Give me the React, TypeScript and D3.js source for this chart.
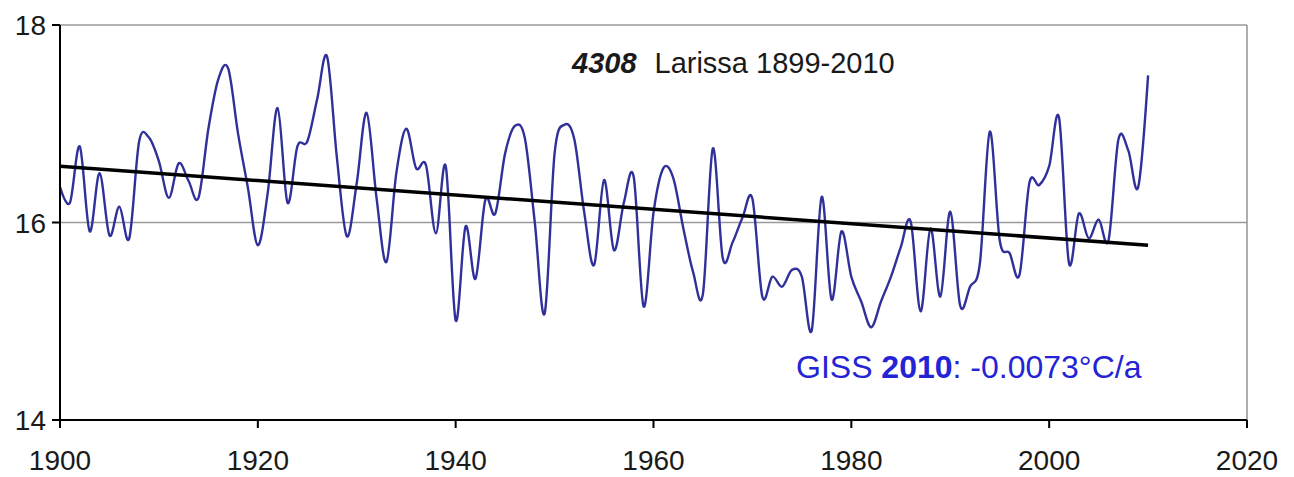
import React from "react";
import * as d3 from "d3";

const startYear = 1900;
const temps: number[] = [
  16.36, 16.2, 16.77, 15.91, 16.5, 15.87, 16.16, 15.84, 16.82, 16.86,
  16.62, 16.25, 16.6, 16.42, 16.25, 16.95, 17.45, 17.56, 16.9, 16.35,
  15.77, 16.3, 17.16, 16.2, 16.77, 16.82, 17.25, 17.68, 16.65, 15.86,
  16.4, 17.11, 16.25, 15.6, 16.5, 16.95, 16.55, 16.58, 15.89, 16.57,
  15.01, 15.96, 15.43, 16.23, 16.09, 16.7, 16.98, 16.85, 16.0, 15.08,
  16.7, 16.99, 16.84, 16.1, 15.57, 16.43, 15.72, 16.2, 16.46, 15.15,
  16.1, 16.55, 16.45, 15.95, 15.5, 15.28, 16.75, 15.64, 15.8, 16.05,
  16.24, 15.25, 15.45, 15.35, 15.52, 15.45, 14.91, 16.26, 15.22, 15.91,
  15.45, 15.2, 14.94, 15.2, 15.45, 15.75, 16.01, 15.1, 15.94, 15.25,
  16.11, 15.16, 15.35, 15.59, 16.92, 15.82, 15.69, 15.47, 16.4, 16.38,
  16.57, 17.06, 15.59, 16.09, 15.84, 16.03, 15.82, 16.84, 16.73, 16.36,
  17.49,
];
const years: number[] = temps.map((_, i) => startYear + i);

const trendYears: number[] = [1900, 2010];
const trendValues: number[] = [16.57, 15.77];

const xTicks: number[] = [1900, 1920, 1940, 1960, 1980, 2000, 2020];
const yTicks: number[] = [14, 16, 18];

const titleId = "4308";
const titleText = "Larissa 1899-2010";
const noteSource = "GISS ";
const noteYear = "2010";
const noteRate = ": -0.0073°C/a";

const W = 1294;
const H = 477;
const left = 60;
const right = 1247;
const top = 25;
const bottom = 420;
const FONT = "'Liberation Sans', Arial, sans-serif";

export default function App() {
  const x = d3.scaleLinear().domain([1900, 2020]).range([left, right]);
  const y = d3.scaleLinear().domain([14, 18]).range([bottom, top]);

  const line = d3
    .line<number>()
    .x((_, i) => x(years[i]))
    .y((d) => y(d))
    .curve(d3.curveCardinal.tension(0));

  const trend = d3
    .line<number>()
    .x((_, i) => x(trendYears[i]))
    .y((d) => y(d));

  return (
    <svg
      width={W}
      height={H}
      style={{ position: "absolute", left: 0, top: 0, background: "#fff" }}
      fontFamily={FONT}
    >
      <rect x={0} y={0} width={W} height={H} fill="#fff" />
      {yTicks
        .filter((t) => t !== 14)
        .map((t) => (
          <line
            key={"g" + t}
            x1={left}
            x2={right}
            y1={y(t)}
            y2={y(t)}
            stroke="#9a9a9a"
            strokeWidth={1.6}
          />
        ))}
      <line x1={right} x2={right} y1={top} y2={bottom} stroke="#9a9a9a" strokeWidth={1.6} />

      <defs>
        <clipPath id="plotclip">
          <rect x={left} y={top} width={right - left} height={bottom - top} />
        </clipPath>
      </defs>

      <path
        d={line(temps) || ""}
        fill="none"
        stroke="#30309a"
        strokeWidth={2.4}
        strokeLinejoin="round"
        clipPath="url(#plotclip)"
      />
      <path d={trend(trendValues) || ""} fill="none" stroke="#000" strokeWidth={3.5} />

      <line x1={left} x2={left} y1={top} y2={bottom} stroke="#000" strokeWidth={2} />
      <line x1={left} x2={right} y1={bottom} y2={bottom} stroke="#000" strokeWidth={2} />
      {yTicks.map((t) => (
        <g key={"y" + t}>
          <line x1={left - 8} x2={left} y1={y(t)} y2={y(t)} stroke="#000" strokeWidth={2} />
          <text
            x={left - 14}
            y={y(t)}
            dy="0.36em"
            textAnchor="end"
            fontSize={28}
            fill="#1a1a1a"
          >
            {t}
          </text>
        </g>
      ))}
      {xTicks.map((t) => (
        <g key={"x" + t}>
          <line x1={x(t)} x2={x(t)} y1={bottom} y2={bottom + 8} stroke="#000" strokeWidth={2} />
          <text x={x(t)} y={470} textAnchor="middle" fontSize={28} fill="#1a1a1a">
            {t}
          </text>
        </g>
      ))}

      <text x={572} y={73} fontSize={29} fill="#1a1a1a">
        <tspan fontWeight="bold" fontStyle="italic">
          {titleId}
        </tspan>
        <tspan dx={18}>{titleText}</tspan>
      </text>

      <text x={796} y={378} fontSize={32} fill="#2424d6">
        <tspan>{noteSource}</tspan>
        <tspan fontWeight="bold">{noteYear}</tspan>
        <tspan>{noteRate}</tspan>
      </text>
    </svg>
  );
}
